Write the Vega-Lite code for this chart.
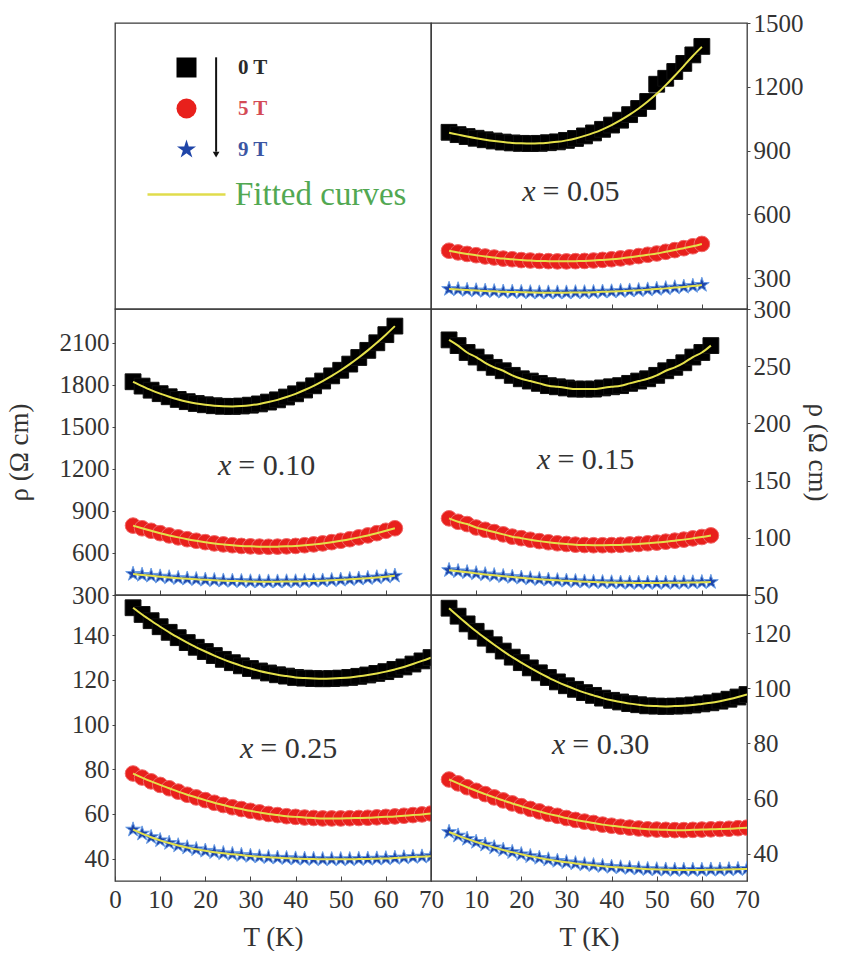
{
"$schema":"https://vega.github.io/schema/vega-lite/v6.json",
"background":"white",
"padding":{"left":4,"top":10,"right":0,"bottom":0},
"columns":2,
"spacing":0,
"bounds":"flush",
"datasets":{
"d05":[
{"B":"0 T","T":4,"r":986,"f":984},{"B":"0 T","T":6,"r":975,"f":975},{"B":"0 T","T":8,"r":966,"f":966},{"B":"0 T","T":10,"r":958,"f":958},{"B":"0 T","T":12,"r":951,"f":951},{"B":"0 T","T":14,"r":945,"f":945},{"B":"0 T","T":16,"r":940,"f":940},{"B":"0 T","T":18,"r":936,"f":936},{"B":"0 T","T":20,"r":934,"f":934},{"B":"0 T","T":22,"r":933,"f":933},{"B":"0 T","T":24,"r":934,"f":934},{"B":"0 T","T":26,"r":937,"f":937},{"B":"0 T","T":28,"r":941,"f":941},{"B":"0 T","T":30,"r":948,"f":948},{"B":"0 T","T":32,"r":957,"f":957},{"B":"0 T","T":34,"r":969,"f":969},{"B":"0 T","T":36,"r":983,"f":983},{"B":"0 T","T":38,"r":1000,"f":1000},{"B":"0 T","T":40,"r":1020,"f":1020},{"B":"0 T","T":42,"r":1043,"f":1043},{"B":"0 T","T":44,"r":1069,"f":1069},{"B":"0 T","T":46,"r":1098,"f":1098},{"B":"0 T","T":48,"r":1131,"f":1131},{"B":"0 T","T":50,"r":1212,"f":1167},{"B":"0 T","T":52,"r":1240,"f":1208},{"B":"0 T","T":54,"r":1272,"f":1252},{"B":"0 T","T":56,"r":1310,"f":1298},{"B":"0 T","T":58,"r":1350,"f":1345},{"B":"0 T","T":60,"r":1390,"f":1388},
{"B":"5 T","T":4,"r":429,"f":429},{"B":"5 T","T":6,"r":421,"f":421},{"B":"5 T","T":8,"r":414,"f":414},{"B":"5 T","T":10,"r":408,"f":408},{"B":"5 T","T":12,"r":402,"f":402},{"B":"5 T","T":14,"r":397,"f":397},{"B":"5 T","T":16,"r":392,"f":392},{"B":"5 T","T":18,"r":389,"f":389},{"B":"5 T","T":20,"r":385,"f":385},{"B":"5 T","T":22,"r":383,"f":383},{"B":"5 T","T":24,"r":381,"f":381},{"B":"5 T","T":26,"r":380,"f":380},{"B":"5 T","T":28,"r":379,"f":379},{"B":"5 T","T":30,"r":379,"f":379},{"B":"5 T","T":32,"r":380,"f":380},{"B":"5 T","T":34,"r":381,"f":381},{"B":"5 T","T":36,"r":383,"f":383},{"B":"5 T","T":38,"r":386,"f":386},{"B":"5 T","T":40,"r":389,"f":389},{"B":"5 T","T":42,"r":393,"f":393},{"B":"5 T","T":44,"r":398,"f":398},{"B":"5 T","T":46,"r":404,"f":404},{"B":"5 T","T":48,"r":410,"f":410},{"B":"5 T","T":50,"r":416,"f":416},{"B":"5 T","T":52,"r":424,"f":424},{"B":"5 T","T":54,"r":432,"f":432},{"B":"5 T","T":56,"r":441,"f":441},{"B":"5 T","T":58,"r":450,"f":450},{"B":"5 T","T":60,"r":461,"f":461},
{"B":"9 T","T":4,"r":249,"f":249},{"B":"9 T","T":6,"r":247,"f":247},{"B":"9 T","T":8,"r":244,"f":244},{"B":"9 T","T":10,"r":242,"f":242},{"B":"9 T","T":12,"r":240,"f":240},{"B":"9 T","T":14,"r":238,"f":238},{"B":"9 T","T":16,"r":236,"f":236},{"B":"9 T","T":18,"r":235,"f":235},{"B":"9 T","T":20,"r":234,"f":234},{"B":"9 T","T":22,"r":233,"f":233},{"B":"9 T","T":24,"r":232,"f":232},{"B":"9 T","T":26,"r":232,"f":232},{"B":"9 T","T":28,"r":232,"f":232},{"B":"9 T","T":30,"r":232,"f":232},{"B":"9 T","T":32,"r":233,"f":233},{"B":"9 T","T":34,"r":233,"f":233},{"B":"9 T","T":36,"r":234,"f":234},{"B":"9 T","T":38,"r":236,"f":236},{"B":"9 T","T":40,"r":237,"f":237},{"B":"9 T","T":42,"r":239,"f":239},{"B":"9 T","T":44,"r":241,"f":241},{"B":"9 T","T":46,"r":243,"f":243},{"B":"9 T","T":48,"r":246,"f":246},{"B":"9 T","T":50,"r":249,"f":249},{"B":"9 T","T":52,"r":252,"f":252},{"B":"9 T","T":54,"r":256,"f":256},{"B":"9 T","T":56,"r":259,"f":259},{"B":"9 T","T":58,"r":263,"f":263},{"B":"9 T","T":60,"r":268,"f":268}
],
"d10":[
{"B":"0 T","T":4,"r":1821},{"B":"0 T","T":6,"r":1790},{"B":"0 T","T":8,"r":1761},{"B":"0 T","T":10,"r":1736},{"B":"0 T","T":12,"r":1714},{"B":"0 T","T":14,"r":1695},{"B":"0 T","T":16,"r":1679},{"B":"0 T","T":18,"r":1666},{"B":"0 T","T":20,"r":1657},{"B":"0 T","T":22,"r":1650},{"B":"0 T","T":24,"r":1646},{"B":"0 T","T":26,"r":1645},{"B":"0 T","T":28,"r":1648},{"B":"0 T","T":30,"r":1654},{"B":"0 T","T":32,"r":1663},{"B":"0 T","T":34,"r":1676},{"B":"0 T","T":36,"r":1692},{"B":"0 T","T":38,"r":1712},{"B":"0 T","T":40,"r":1735},{"B":"0 T","T":42,"r":1762},{"B":"0 T","T":44,"r":1792},{"B":"0 T","T":46,"r":1826},{"B":"0 T","T":48,"r":1863},{"B":"0 T","T":50,"r":1903},{"B":"0 T","T":52,"r":1947},{"B":"0 T","T":54,"r":1994},{"B":"0 T","T":56,"r":2045},{"B":"0 T","T":58,"r":2099},{"B":"0 T","T":60,"r":2157},{"B":"0 T","T":62,"r":2218},
{"B":"5 T","T":4,"r":795},{"B":"5 T","T":6,"r":776},{"B":"5 T","T":8,"r":758},{"B":"5 T","T":10,"r":741},{"B":"5 T","T":12,"r":725},{"B":"5 T","T":14,"r":711},{"B":"5 T","T":16,"r":698},{"B":"5 T","T":18,"r":687},{"B":"5 T","T":20,"r":677},{"B":"5 T","T":22,"r":668},{"B":"5 T","T":24,"r":661},{"B":"5 T","T":26,"r":655},{"B":"5 T","T":28,"r":650},{"B":"5 T","T":30,"r":647},{"B":"5 T","T":32,"r":645},{"B":"5 T","T":34,"r":644},{"B":"5 T","T":36,"r":645},{"B":"5 T","T":38,"r":647},{"B":"5 T","T":40,"r":650},{"B":"5 T","T":42,"r":655},{"B":"5 T","T":44,"r":661},{"B":"5 T","T":46,"r":668},{"B":"5 T","T":48,"r":677},{"B":"5 T","T":50,"r":687},{"B":"5 T","T":52,"r":698},{"B":"5 T","T":54,"r":711},{"B":"5 T","T":56,"r":725},{"B":"5 T","T":58,"r":741},{"B":"5 T","T":60,"r":758},{"B":"5 T","T":62,"r":776},
{"B":"9 T","T":4,"r":450},{"B":"9 T","T":6,"r":443},{"B":"9 T","T":8,"r":437},{"B":"9 T","T":10,"r":431},{"B":"9 T","T":12,"r":425},{"B":"9 T","T":14,"r":420},{"B":"9 T","T":16,"r":416},{"B":"9 T","T":18,"r":412},{"B":"9 T","T":20,"r":408},{"B":"9 T","T":22,"r":405},{"B":"9 T","T":24,"r":402},{"B":"9 T","T":26,"r":400},{"B":"9 T","T":28,"r":398},{"B":"9 T","T":30,"r":396},{"B":"9 T","T":32,"r":395},{"B":"9 T","T":34,"r":395},{"B":"9 T","T":36,"r":395},{"B":"9 T","T":38,"r":396},{"B":"9 T","T":40,"r":396},{"B":"9 T","T":42,"r":398},{"B":"9 T","T":44,"r":400},{"B":"9 T","T":46,"r":402},{"B":"9 T","T":48,"r":405},{"B":"9 T","T":50,"r":408},{"B":"9 T","T":52,"r":412},{"B":"9 T","T":54,"r":416},{"B":"9 T","T":56,"r":420},{"B":"9 T","T":58,"r":425},{"B":"9 T","T":60,"r":431},{"B":"9 T","T":62,"r":437}
],
"d15":[
{"B":"0 T","T":4,"r":273},{"B":"0 T","T":6,"r":268},{"B":"0 T","T":8,"r":262},{"B":"0 T","T":10,"r":258},{"B":"0 T","T":12,"r":253},{"B":"0 T","T":14,"r":249},{"B":"0 T","T":16,"r":246},{"B":"0 T","T":18,"r":242},{"B":"0 T","T":20,"r":239},{"B":"0 T","T":22,"r":237},{"B":"0 T","T":24,"r":235},{"B":"0 T","T":26,"r":233},{"B":"0 T","T":28,"r":232},{"B":"0 T","T":30,"r":231},{"B":"0 T","T":32,"r":230},{"B":"0 T","T":34,"r":230},{"B":"0 T","T":36,"r":230},{"B":"0 T","T":38,"r":231},{"B":"0 T","T":40,"r":232},{"B":"0 T","T":42,"r":233},{"B":"0 T","T":44,"r":235},{"B":"0 T","T":46,"r":237},{"B":"0 T","T":48,"r":239},{"B":"0 T","T":50,"r":242},{"B":"0 T","T":52,"r":246},{"B":"0 T","T":54,"r":249},{"B":"0 T","T":56,"r":253},{"B":"0 T","T":58,"r":258},{"B":"0 T","T":60,"r":262},{"B":"0 T","T":62,"r":268},
{"B":"5 T","T":4,"r":117},{"B":"5 T","T":6,"r":114},{"B":"5 T","T":8,"r":112},{"B":"5 T","T":10,"r":109},{"B":"5 T","T":12,"r":107},{"B":"5 T","T":14,"r":105},{"B":"5 T","T":16,"r":103},{"B":"5 T","T":18,"r":101},{"B":"5 T","T":20,"r":99.7},{"B":"5 T","T":22,"r":98.3},{"B":"5 T","T":24,"r":97.1},{"B":"5 T","T":26,"r":96.1},{"B":"5 T","T":28,"r":95.2},{"B":"5 T","T":30,"r":94.6},{"B":"5 T","T":32,"r":94},{"B":"5 T","T":34,"r":93.7},{"B":"5 T","T":36,"r":93.5},{"B":"5 T","T":38,"r":93.5},{"B":"5 T","T":40,"r":93.6},{"B":"5 T","T":42,"r":93.8},{"B":"5 T","T":44,"r":94.2},{"B":"5 T","T":46,"r":94.6},{"B":"5 T","T":48,"r":95.2},{"B":"5 T","T":50,"r":95.8},{"B":"5 T","T":52,"r":96.6},{"B":"5 T","T":54,"r":97.5},{"B":"5 T","T":56,"r":98.4},{"B":"5 T","T":58,"r":99.5},{"B":"5 T","T":60,"r":100.7},{"B":"5 T","T":62,"r":102.1},
{"B":"9 T","T":4,"r":71.7},{"B":"9 T","T":6,"r":70.7},{"B":"9 T","T":8,"r":69.8},{"B":"9 T","T":10,"r":68.9},{"B":"9 T","T":12,"r":68},{"B":"9 T","T":14,"r":67.2},{"B":"9 T","T":16,"r":66.4},{"B":"9 T","T":18,"r":65.7},{"B":"9 T","T":20,"r":65},{"B":"9 T","T":22,"r":64.4},{"B":"9 T","T":24,"r":63.8},{"B":"9 T","T":26,"r":63.3},{"B":"9 T","T":28,"r":62.8},{"B":"9 T","T":30,"r":62.4},{"B":"9 T","T":32,"r":62},{"B":"9 T","T":34,"r":61.6},{"B":"9 T","T":36,"r":61.3},{"B":"9 T","T":38,"r":61.1},{"B":"9 T","T":40,"r":60.9},{"B":"9 T","T":42,"r":60.7},{"B":"9 T","T":44,"r":60.6},{"B":"9 T","T":46,"r":60.5},{"B":"9 T","T":48,"r":60.5},{"B":"9 T","T":50,"r":60.5},{"B":"9 T","T":52,"r":60.6},{"B":"9 T","T":54,"r":60.6},{"B":"9 T","T":56,"r":60.8},{"B":"9 T","T":58,"r":60.9},{"B":"9 T","T":60,"r":61.1},{"B":"9 T","T":62,"r":61.3}
],
"d25":[
{"B":"0 T","T":4,"r":152.3},{"B":"0 T","T":6,"r":149.3},{"B":"0 T","T":8,"r":146.5},{"B":"0 T","T":10,"r":143.8},{"B":"0 T","T":12,"r":141.3},{"B":"0 T","T":14,"r":138.9},{"B":"0 T","T":16,"r":136.7},{"B":"0 T","T":18,"r":134.6},{"B":"0 T","T":20,"r":132.7},{"B":"0 T","T":22,"r":130.9},{"B":"0 T","T":24,"r":129.2},{"B":"0 T","T":26,"r":127.7},{"B":"0 T","T":28,"r":126.3},{"B":"0 T","T":30,"r":125.1},{"B":"0 T","T":32,"r":124},{"B":"0 T","T":34,"r":123.1},{"B":"0 T","T":36,"r":122.3},{"B":"0 T","T":38,"r":121.7},{"B":"0 T","T":40,"r":121.1},{"B":"0 T","T":42,"r":120.8},{"B":"0 T","T":44,"r":120.6},{"B":"0 T","T":46,"r":120.5},{"B":"0 T","T":48,"r":120.6},{"B":"0 T","T":50,"r":120.8},{"B":"0 T","T":52,"r":121.1},{"B":"0 T","T":54,"r":121.6},{"B":"0 T","T":56,"r":122.2},{"B":"0 T","T":58,"r":122.9},{"B":"0 T","T":60,"r":123.7},{"B":"0 T","T":62,"r":124.7},{"B":"0 T","T":64,"r":125.8},{"B":"0 T","T":66,"r":127.1},{"B":"0 T","T":68,"r":128.5},{"B":"0 T","T":70,"r":130},
{"B":"5 T","T":4,"r":78.1},{"B":"5 T","T":6,"r":76.3},{"B":"5 T","T":8,"r":74.6},{"B":"5 T","T":10,"r":73},{"B":"5 T","T":12,"r":71.5},{"B":"5 T","T":14,"r":70},{"B":"5 T","T":16,"r":68.6},{"B":"5 T","T":18,"r":67.4},{"B":"5 T","T":20,"r":66.2},{"B":"5 T","T":22,"r":65},{"B":"5 T","T":24,"r":64},{"B":"5 T","T":26,"r":63},{"B":"5 T","T":28,"r":62.2},{"B":"5 T","T":30,"r":61.4},{"B":"5 T","T":32,"r":60.7},{"B":"5 T","T":34,"r":60},{"B":"5 T","T":36,"r":59.5},{"B":"5 T","T":38,"r":59},{"B":"5 T","T":40,"r":58.7},{"B":"5 T","T":42,"r":58.4},{"B":"5 T","T":44,"r":58.2},{"B":"5 T","T":46,"r":58},{"B":"5 T","T":48,"r":58},{"B":"5 T","T":50,"r":58},{"B":"5 T","T":52,"r":58.1},{"B":"5 T","T":54,"r":58.2},{"B":"5 T","T":56,"r":58.3},{"B":"5 T","T":58,"r":58.5},{"B":"5 T","T":60,"r":58.7},{"B":"5 T","T":62,"r":58.9},{"B":"5 T","T":64,"r":59.2},{"B":"5 T","T":66,"r":59.5},{"B":"5 T","T":68,"r":59.8},{"B":"5 T","T":70,"r":60.2},
{"B":"9 T","T":4,"r":53},{"B":"9 T","T":6,"r":51.2},{"B":"9 T","T":8,"r":49.6},{"B":"9 T","T":10,"r":48.2},{"B":"9 T","T":12,"r":47},{"B":"9 T","T":14,"r":45.9},{"B":"9 T","T":16,"r":45},{"B":"9 T","T":18,"r":44.2},{"B":"9 T","T":20,"r":43.5},{"B":"9 T","T":22,"r":42.9},{"B":"9 T","T":24,"r":42.4},{"B":"9 T","T":26,"r":42},{"B":"9 T","T":28,"r":41.6},{"B":"9 T","T":30,"r":41.2},{"B":"9 T","T":32,"r":40.9},{"B":"9 T","T":34,"r":40.6},{"B":"9 T","T":36,"r":40.4},{"B":"9 T","T":38,"r":40.2},{"B":"9 T","T":40,"r":40},{"B":"9 T","T":42,"r":39.9},{"B":"9 T","T":44,"r":39.8},{"B":"9 T","T":46,"r":39.7},{"B":"9 T","T":48,"r":39.7},{"B":"9 T","T":50,"r":39.7},{"B":"9 T","T":52,"r":39.7},{"B":"9 T","T":54,"r":39.8},{"B":"9 T","T":56,"r":39.9},{"B":"9 T","T":58,"r":40},{"B":"9 T","T":60,"r":40.1},{"B":"9 T","T":62,"r":40.3},{"B":"9 T","T":64,"r":40.5},{"B":"9 T","T":66,"r":40.7},{"B":"9 T","T":68,"r":40.9},{"B":"9 T","T":70,"r":41.1}
],
"d30":[
{"B":"0 T","T":4,"r":129.2},{"B":"0 T","T":6,"r":126.3},{"B":"0 T","T":8,"r":123.5},{"B":"0 T","T":10,"r":120.8},{"B":"0 T","T":12,"r":118.3},{"B":"0 T","T":14,"r":115.9},{"B":"0 T","T":16,"r":113.6},{"B":"0 T","T":18,"r":111.4},{"B":"0 T","T":20,"r":109.4},{"B":"0 T","T":22,"r":107.5},{"B":"0 T","T":24,"r":105.7},{"B":"0 T","T":26,"r":104},{"B":"0 T","T":28,"r":102.4},{"B":"0 T","T":30,"r":101},{"B":"0 T","T":32,"r":99.7},{"B":"0 T","T":34,"r":98.5},{"B":"0 T","T":36,"r":97.5},{"B":"0 T","T":38,"r":96.5},{"B":"0 T","T":40,"r":95.7},{"B":"0 T","T":42,"r":95.1},{"B":"0 T","T":44,"r":94.5},{"B":"0 T","T":46,"r":94.1},{"B":"0 T","T":48,"r":93.7},{"B":"0 T","T":50,"r":93.6},{"B":"0 T","T":52,"r":93.5},{"B":"0 T","T":54,"r":93.6},{"B":"0 T","T":56,"r":93.7},{"B":"0 T","T":58,"r":94},{"B":"0 T","T":60,"r":94.4},{"B":"0 T","T":62,"r":94.8},{"B":"0 T","T":64,"r":95.4},{"B":"0 T","T":66,"r":96.1},{"B":"0 T","T":68,"r":96.9},{"B":"0 T","T":70,"r":97.8},
{"B":"5 T","T":4,"r":66.9},{"B":"5 T","T":6,"r":65.5},{"B":"5 T","T":8,"r":64.1},{"B":"5 T","T":10,"r":62.8},{"B":"5 T","T":12,"r":61.6},{"B":"5 T","T":14,"r":60.4},{"B":"5 T","T":16,"r":59.3},{"B":"5 T","T":18,"r":58.2},{"B":"5 T","T":20,"r":57.2},{"B":"5 T","T":22,"r":56.2},{"B":"5 T","T":24,"r":55.3},{"B":"5 T","T":26,"r":54.4},{"B":"5 T","T":28,"r":53.7},{"B":"5 T","T":30,"r":52.9},{"B":"5 T","T":32,"r":52.2},{"B":"5 T","T":34,"r":51.6},{"B":"5 T","T":36,"r":51.1},{"B":"5 T","T":38,"r":50.5},{"B":"5 T","T":40,"r":50.1},{"B":"5 T","T":42,"r":49.7},{"B":"5 T","T":44,"r":49.4},{"B":"5 T","T":46,"r":49.1},{"B":"5 T","T":48,"r":48.8},{"B":"5 T","T":50,"r":48.7},{"B":"5 T","T":52,"r":48.6},{"B":"5 T","T":54,"r":48.5},{"B":"5 T","T":56,"r":48.5},{"B":"5 T","T":58,"r":48.6},{"B":"5 T","T":60,"r":48.7},{"B":"5 T","T":62,"r":48.8},{"B":"5 T","T":64,"r":48.9},{"B":"5 T","T":66,"r":49},{"B":"5 T","T":68,"r":49.2},{"B":"5 T","T":70,"r":49.4},
{"B":"9 T","T":4,"r":47.8},{"B":"9 T","T":6,"r":46.5},{"B":"9 T","T":8,"r":45.3},{"B":"9 T","T":10,"r":44.2},{"B":"9 T","T":12,"r":43.2},{"B":"9 T","T":14,"r":42.2},{"B":"9 T","T":16,"r":41.3},{"B":"9 T","T":18,"r":40.5},{"B":"9 T","T":20,"r":39.7},{"B":"9 T","T":22,"r":39},{"B":"9 T","T":24,"r":38.4},{"B":"9 T","T":26,"r":37.8},{"B":"9 T","T":28,"r":37.3},{"B":"9 T","T":30,"r":36.8},{"B":"9 T","T":32,"r":36.4},{"B":"9 T","T":34,"r":36},{"B":"9 T","T":36,"r":35.7},{"B":"9 T","T":38,"r":35.4},{"B":"9 T","T":40,"r":35.1},{"B":"9 T","T":42,"r":34.9},{"B":"9 T","T":44,"r":34.7},{"B":"9 T","T":46,"r":34.5},{"B":"9 T","T":48,"r":34.3},{"B":"9 T","T":50,"r":34.2},{"B":"9 T","T":52,"r":34.1},{"B":"9 T","T":54,"r":34},{"B":"9 T","T":56,"r":34},{"B":"9 T","T":58,"r":34},{"B":"9 T","T":60,"r":34},{"B":"9 T","T":62,"r":34.1},{"B":"9 T","T":64,"r":34.1},{"B":"9 T","T":66,"r":34.2},{"B":"9 T","T":68,"r":34.3},{"B":"9 T","T":70,"r":34.4}
]
},
"concat":[
{
"width":316,"height":286,
"data":{"values":[{"B":"0 T","F":"Fitted curves"},{"B":"5 T","F":"Fitted curves"},{"B":"9 T","F":"Fitted curves"}]},
"layer":[
{"mark":{"type":"point","filled":true,"opacity":0},
"encoding":{
"color":{"field":"B","type":"nominal","scale":{"domain":["0 T","5 T","9 T"],"range":["#000000","#e8201c","#1f45a8"]},
"legend":{"orient":"none","direction":"vertical","legendX":61,"legendY":34,"title":null,"padding":0,"symbolSize":400,"symbolOpacity":1,"symbolStrokeWidth":0,"rowPadding":19,"labelOffset":41,"labelFont":"Liberation Serif, serif","labelFontSize":21,"labelFontWeight":"bold","encode":{"labels":{"update":{"fill":{"signal":"datum.label == '0 T' ? '#2a2a2a' : datum.label == '5 T' ? '#d44a55' : '#3b55a3'"}}}}}},
"shape":{"field":"B","type":"nominal","scale":{"domain":["0 T","5 T","9 T"],"range":["square","circle","M0,-1L0.2245,-0.309L0.951,-0.309L0.363,0.118L0.588,0.809L0,0.382L-0.588,0.809L-0.363,0.118L-0.951,-0.309L-0.2245,-0.309Z"]},
"legend":{"orient":"none","direction":"vertical","legendX":61,"legendY":34,"title":null,"padding":0,"symbolSize":400,"symbolOpacity":1,"symbolStrokeWidth":0,"rowPadding":19,"labelOffset":41,"labelFont":"Liberation Serif, serif","labelFontSize":21,"labelFontWeight":"bold","encode":{"labels":{"update":{"fill":{"signal":"datum.label == '0 T' ? '#2a2a2a' : datum.label == '5 T' ? '#d44a55' : '#3b55a3'"}}}}}}
}},
{"mark":{"type":"line","opacity":0},
"encoding":{"stroke":{"field":"F","type":"nominal","scale":{"domain":["Fitted curves"],"range":["#e0dc4c"]},
"legend":{"orient":"none","direction":"vertical","legendX":31,"legendY":131,"title":null,"padding":0,"symbolType":"stroke","symbolSize":6084,"symbolStrokeWidth":2.5,"symbolOpacity":1,"labelOffset":8,"labelLimit":400,"labelFont":"Liberation Serif, serif","labelFontSize":33,"labelColor":"#52a852"}}}},
{"data":{"values":[{"a":1}]},
"mark":{"type":"rule","strokeWidth":2,"color":"#111111"},
"encoding":{"x":{"datum":22.4,"type":"quantitative","scale":{"domain":[0,70],"nice":false},"axis":null},"y":{"datum":8.8,"type":"quantitative","scale":{"domain":[0,10],"nice":false},"axis":null},"y2":{"datum":5.5}}},
{"data":{"values":[{"a":1}]},
"mark":{"type":"point","shape":"triangle-down","filled":true,"size":45,"color":"#111111","opacity":1},
"encoding":{"x":{"datum":22.4,"type":"quantitative"},"y":{"datum":5.4,"type":"quantitative"}}}
]
},
{
"width":316,"height":286,
"data":{"name":"d05"},
"layer":[
{"mark":{"type":"point","filled":true,"strokeWidth":1,"opacity":1,"clip":true},
"encoding":{
"x":{"field":"T","type":"quantitative","scale":{"domain":[0,70],"nice":false},"axis":{"labels":false,"title":null,"tickSize":-5,"values":[0,10,20,30,40,50,60,70]}},
"y":{"field":"r","type":"quantitative","scale":{"domain":[155,1500],"nice":false,"zero":false},"axis":{"orient":"right","title":null,"format":"d","values":[300,600,900,1200,1500],"tickSize":3,"labelPadding":3}},
"color":{"field":"B","type":"nominal","scale":{"domain":["0 T","5 T","9 T"],"range":["#000000","#e8201c","#1f45a8"]},"legend":null},
"stroke":{"field":"B","type":"nominal","scale":{"domain":["0 T","5 T","9 T"],"range":["#111111","#f06868","#6a9ee6"]},"legend":null},
"shape":{"field":"B","type":"nominal","scale":{"domain":["0 T","5 T","9 T"],"range":["square","circle","M0,-1L0.2245,-0.309L0.951,-0.309L0.363,0.118L0.588,0.809L0,0.382L-0.588,0.809L-0.363,0.118L-0.951,-0.309L-0.2245,-0.309Z"]},"legend":null},
"size":{"field":"B","type":"nominal","scale":{"domain":["0 T","5 T","9 T"],"range":[250,240,240]},"legend":null}
}},
{"mark":{"type":"line","color":"#e4e04a","strokeWidth":2,"interpolate":"monotone","clip":true},
"encoding":{"x":{"field":"T","type":"quantitative"},"y":{"field":"f","type":"quantitative"},"detail":{"field":"B","type":"nominal"}}},
{"data":{"values":[{"v":"= 0.05"}]},
"mark":{"type":"text","text":"x","font":"Liberation Serif, serif","fontStyle":"italic","fontSize":30,"align":"right","baseline":"middle","dx":-7,"color":"#333333"},
"encoding":{"x":{"datum":24.7,"type":"quantitative"},"y":{"datum":705,"type":"quantitative"}}},
{"data":{"values":[{"v":"= 0.05"}]},
"mark":{"type":"text","font":"Liberation Serif, serif","fontSize":30,"align":"left","baseline":"middle","color":"#333333"},
"encoding":{"x":{"datum":24.7,"type":"quantitative"},"y":{"datum":705,"type":"quantitative"},"text":{"field":"v","type":"nominal"}}}
]
},
{
"width":316,"height":286,
"data":{"name":"d10"},
"layer":[
{"mark":{"type":"point","filled":true,"strokeWidth":1,"opacity":1,"clip":true},
"encoding":{
"x":{"field":"T","type":"quantitative","scale":{"domain":[0,70],"nice":false},"axis":{"labels":false,"title":null,"tickSize":-5,"values":[0,10,20,30,40,50,60,70]}},
"y":{"field":"r","type":"quantitative","scale":{"domain":[300,2340],"nice":false,"zero":false},"axis":{"orient":"left","title":"ρ (Ω cm)","titlePadding":26,"format":"d","values":[300,600,900,1200,1500,1800,2100],"tickSize":3,"labelPadding":3}},
"color":{"field":"B","type":"nominal","scale":{"domain":["0 T","5 T","9 T"],"range":["#000000","#e8201c","#1f45a8"]},"legend":null},
"stroke":{"field":"B","type":"nominal","scale":{"domain":["0 T","5 T","9 T"],"range":["#111111","#f06868","#6a9ee6"]},"legend":null},
"shape":{"field":"B","type":"nominal","scale":{"domain":["0 T","5 T","9 T"],"range":["square","circle","M0,-1L0.2245,-0.309L0.951,-0.309L0.363,0.118L0.588,0.809L0,0.382L-0.588,0.809L-0.363,0.118L-0.951,-0.309L-0.2245,-0.309Z"]},"legend":null},
"size":{"field":"B","type":"nominal","scale":{"domain":["0 T","5 T","9 T"],"range":[250,240,240]},"legend":null}
}},
{"mark":{"type":"line","color":"#e4e04a","strokeWidth":2,"interpolate":"monotone","clip":true},
"encoding":{"x":{"field":"T","type":"quantitative"},"y":{"field":"r","type":"quantitative"},"detail":{"field":"B","type":"nominal"}}},
{"data":{"values":[{"v":"= 0.10"}]},
"mark":{"type":"text","text":"x","font":"Liberation Serif, serif","fontStyle":"italic","fontSize":30,"align":"right","baseline":"middle","dx":-7,"color":"#333333"},
"encoding":{"x":{"datum":27.3,"type":"quantitative"},"y":{"datum":1218,"type":"quantitative"}}},
{"data":{"values":[{"v":"= 0.10"}]},
"mark":{"type":"text","font":"Liberation Serif, serif","fontSize":30,"align":"left","baseline":"middle","color":"#333333"},
"encoding":{"x":{"datum":27.3,"type":"quantitative"},"y":{"datum":1218,"type":"quantitative"},"text":{"field":"v","type":"nominal"}}}
]
},
{
"width":316,"height":286,
"data":{"name":"d15"},
"layer":[
{"mark":{"type":"point","filled":true,"strokeWidth":1,"opacity":1,"clip":true},
"encoding":{
"x":{"field":"T","type":"quantitative","scale":{"domain":[0,70],"nice":false},"axis":{"labels":false,"title":null,"tickSize":-5,"values":[0,10,20,30,40,50,60,70]}},
"y":{"field":"r","type":"quantitative","scale":{"domain":[50,300],"nice":false,"zero":false},"axis":{"orient":"right","title":"ρ (Ω cm)","titlePadding":12,"titleAngle":90,"format":"d","values":[50,100,150,200,250,300],"tickSize":3,"labelPadding":3}},
"color":{"field":"B","type":"nominal","scale":{"domain":["0 T","5 T","9 T"],"range":["#000000","#e8201c","#1f45a8"]},"legend":null},
"stroke":{"field":"B","type":"nominal","scale":{"domain":["0 T","5 T","9 T"],"range":["#111111","#f06868","#6a9ee6"]},"legend":null},
"shape":{"field":"B","type":"nominal","scale":{"domain":["0 T","5 T","9 T"],"range":["square","circle","M0,-1L0.2245,-0.309L0.951,-0.309L0.363,0.118L0.588,0.809L0,0.382L-0.588,0.809L-0.363,0.118L-0.951,-0.309L-0.2245,-0.309Z"]},"legend":null},
"size":{"field":"B","type":"nominal","scale":{"domain":["0 T","5 T","9 T"],"range":[250,240,240]},"legend":null}
}},
{"mark":{"type":"line","color":"#e4e04a","strokeWidth":2,"interpolate":"monotone","clip":true},
"encoding":{"x":{"field":"T","type":"quantitative"},"y":{"field":"r","type":"quantitative"},"detail":{"field":"B","type":"nominal"}}},
{"data":{"values":[{"v":"= 0.15"}]},
"mark":{"type":"text","text":"x","font":"Liberation Serif, serif","fontStyle":"italic","fontSize":30,"align":"right","baseline":"middle","dx":-7,"color":"#333333"},
"encoding":{"x":{"datum":28,"type":"quantitative"},"y":{"datum":167.6,"type":"quantitative"}}},
{"data":{"values":[{"v":"= 0.15"}]},
"mark":{"type":"text","font":"Liberation Serif, serif","fontSize":30,"align":"left","baseline":"middle","color":"#333333"},
"encoding":{"x":{"datum":28,"type":"quantitative"},"y":{"datum":167.6,"type":"quantitative"},"text":{"field":"v","type":"nominal"}}}
]
},
{
"width":316,"height":286,
"data":{"name":"d25"},
"layer":[
{"mark":{"type":"point","filled":true,"strokeWidth":1,"opacity":1,"clip":true},
"encoding":{
"x":{"field":"T","type":"quantitative","scale":{"domain":[0,70],"nice":false},"axis":{"title":"T (K)","titlePadding":12,"tickSize":-5,"labelPadding":11,"values":[0,10,20,30,40,50,60,70]}},
"y":{"field":"r","type":"quantitative","scale":{"domain":[30,158],"nice":false,"zero":false},"axis":{"orient":"left","title":null,"format":"d","values":[40,60,80,100,120,140],"tickSize":3,"labelPadding":3}},
"color":{"field":"B","type":"nominal","scale":{"domain":["0 T","5 T","9 T"],"range":["#000000","#e8201c","#1f45a8"]},"legend":null},
"stroke":{"field":"B","type":"nominal","scale":{"domain":["0 T","5 T","9 T"],"range":["#111111","#f06868","#6a9ee6"]},"legend":null},
"shape":{"field":"B","type":"nominal","scale":{"domain":["0 T","5 T","9 T"],"range":["square","circle","M0,-1L0.2245,-0.309L0.951,-0.309L0.363,0.118L0.588,0.809L0,0.382L-0.588,0.809L-0.363,0.118L-0.951,-0.309L-0.2245,-0.309Z"]},"legend":null},
"size":{"field":"B","type":"nominal","scale":{"domain":["0 T","5 T","9 T"],"range":[250,240,240]},"legend":null}
}},
{"mark":{"type":"line","color":"#e4e04a","strokeWidth":2,"interpolate":"monotone","clip":true},
"encoding":{"x":{"field":"T","type":"quantitative"},"y":{"field":"r","type":"quantitative"},"detail":{"field":"B","type":"nominal"}}},
{"data":{"values":[{"v":"= 0.25"}]},
"mark":{"type":"text","text":"x","font":"Liberation Serif, serif","fontStyle":"italic","fontSize":30,"align":"right","baseline":"middle","dx":-7,"color":"#333333"},
"encoding":{"x":{"datum":32.2,"type":"quantitative"},"y":{"datum":89.1,"type":"quantitative"}}},
{"data":{"values":[{"v":"= 0.25"}]},
"mark":{"type":"text","font":"Liberation Serif, serif","fontSize":30,"align":"left","baseline":"middle","color":"#333333"},
"encoding":{"x":{"datum":32.2,"type":"quantitative"},"y":{"datum":89.1,"type":"quantitative"},"text":{"field":"v","type":"nominal"}}}
]
},
{
"width":316,"height":286,
"data":{"name":"d30"},
"layer":[
{"mark":{"type":"point","filled":true,"strokeWidth":1,"opacity":1,"clip":true},
"encoding":{
"x":{"field":"T","type":"quantitative","scale":{"domain":[0,70],"nice":false},"axis":{"title":"T (K)","titlePadding":12,"tickSize":-5,"labelPadding":11,"values":[0,10,20,30,40,50,60,70],"labelExpr":"datum.value == 0 ? '' : datum.label"}},
"y":{"field":"r","type":"quantitative","scale":{"domain":[30,134],"nice":false,"zero":false},"axis":{"orient":"right","title":null,"format":"d","values":[40,60,80,100,120],"tickSize":3,"labelPadding":3}},
"color":{"field":"B","type":"nominal","scale":{"domain":["0 T","5 T","9 T"],"range":["#000000","#e8201c","#1f45a8"]},"legend":null},
"stroke":{"field":"B","type":"nominal","scale":{"domain":["0 T","5 T","9 T"],"range":["#111111","#f06868","#6a9ee6"]},"legend":null},
"shape":{"field":"B","type":"nominal","scale":{"domain":["0 T","5 T","9 T"],"range":["square","circle","M0,-1L0.2245,-0.309L0.951,-0.309L0.363,0.118L0.588,0.809L0,0.382L-0.588,0.809L-0.363,0.118L-0.951,-0.309L-0.2245,-0.309Z"]},"legend":null},
"size":{"field":"B","type":"nominal","scale":{"domain":["0 T","5 T","9 T"],"range":[250,240,240]},"legend":null}
}},
{"mark":{"type":"line","color":"#e4e04a","strokeWidth":2,"interpolate":"monotone","clip":true},
"encoding":{"x":{"field":"T","type":"quantitative"},"y":{"field":"r","type":"quantitative"},"detail":{"field":"B","type":"nominal"}}},
{"data":{"values":[{"v":"= 0.30"}]},
"mark":{"type":"text","text":"x","font":"Liberation Serif, serif","fontStyle":"italic","fontSize":30,"align":"right","baseline":"middle","dx":-7,"color":"#333333"},
"encoding":{"x":{"datum":31.3,"type":"quantitative"},"y":{"datum":79.6,"type":"quantitative"}}},
{"data":{"values":[{"v":"= 0.30"}]},
"mark":{"type":"text","font":"Liberation Serif, serif","fontSize":30,"align":"left","baseline":"middle","color":"#333333"},
"encoding":{"x":{"datum":31.3,"type":"quantitative"},"y":{"datum":79.6,"type":"quantitative"},"text":{"field":"v","type":"nominal"}}}
]
}
],
"resolve":{"scale":{"color":"independent","stroke":"independent","shape":"independent","size":"independent"},"legend":{"color":"independent","stroke":"independent","shape":"independent","size":"independent"}},
"config":{
"view":{"stroke":"#3a3a3a","strokeWidth":1.3},
"font":"Liberation Serif, serif",
"concat":{"spacing":0},
"axis":{"labelFont":"Liberation Serif, serif","labelFontSize":25,"labelColor":"#333333","titleFont":"Liberation Serif, serif","titleFontSize":27,"titleFontWeight":"normal","titleColor":"#333333","domain":false,"grid":false,"tickColor":"#444444","tickWidth":1,"labelOverlap":false,"labelFlush":false,"labelBound":false}
}
}
